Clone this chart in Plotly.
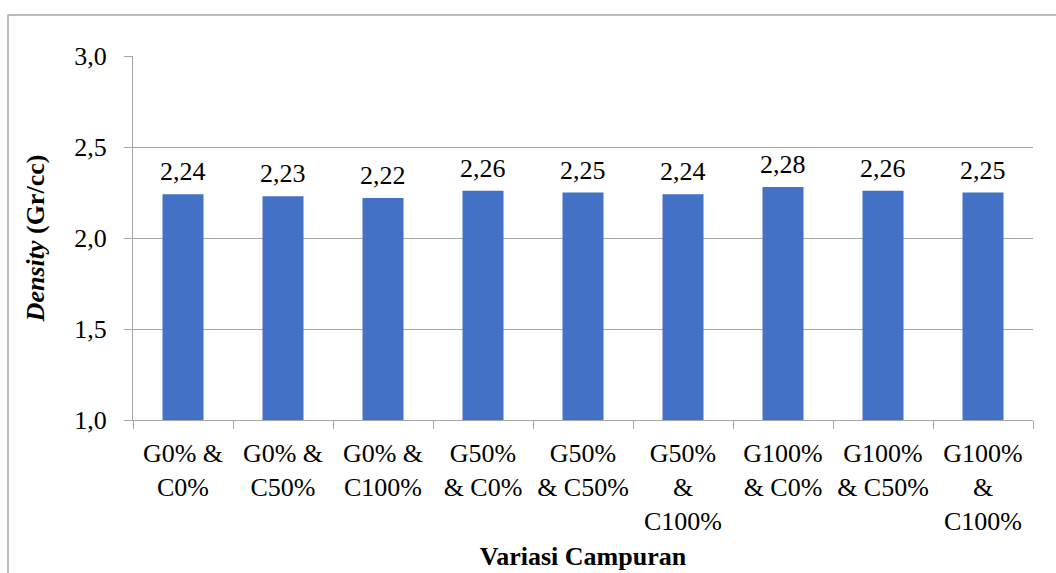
import plotly.graph_objects as go

categories = ["G0% &<br>C0%", "G0% &<br>C50%", "G0% &<br>C100%", "G50%<br>& C0%",
              "G50%<br>& C50%", "G50%<br>&<br>C100%", "G100%<br>& C0%",
              "G100%<br>& C50%", "G100%<br>&<br>C100%"]
density = [2.24, 2.23, 2.22, 2.26, 2.25, 2.24, 2.28, 2.26, 2.25]
y_ticks = [1.0, 1.5, 2.0, 2.5, 3.0]

FONT = "Liberation Serif"
FS = 26
GRID = "#a6a6a6"

fig = go.Figure()
fig.add_trace(go.Bar(
    x=categories, y=density,
    marker=dict(color="#4371C6", line=dict(width=0)),
    cliponaxis=False,
))

for c, v in zip(categories, density):
    fig.add_annotation(
        x=c, y=v, text=f"{v:.2f}".replace(".", ","),
        showarrow=False, yanchor="bottom", yshift=6,
        font=dict(family=FONT, size=FS, color="black"),
    )

L, R, T, B = 133, 23, 56, 153
W, H = 1056, 573
pw, ph = W - L - R, H - T - B

fig.update_layout(
    width=W, height=H,
    margin=dict(l=L, r=R, t=T, b=B),
    paper_bgcolor="white", plot_bgcolor="white",
    separators=", ",
    bargap=0.59,
    showlegend=False,
    font=dict(family=FONT, size=FS, color="black"),
    xaxis=dict(
        automargin=False, tickangle=0,
        showline=True, linecolor=GRID, linewidth=1,
        ticks="outside", ticklen=8, tickcolor=GRID, tickson="boundaries",
        ticklabelstandoff=10,
        tickfont=dict(family=FONT, size=FS, color="black"),
        title=dict(text="<b>Variasi Campuran</b>", font=dict(family=FONT, size=FS), standoff=12),
    ),
    yaxis=dict(
        automargin=False,
        range=[1.0, 3.0], tickvals=y_ticks, tickformat=".1f",
        showgrid=True, gridcolor=GRID, gridwidth=1,
        showline=True, linecolor=GRID, linewidth=1,
        ticks="outside", ticklen=8, tickcolor=GRID,
        ticklabelstandoff=12,
        tickfont=dict(family=FONT, size=FS, color="black"),
        title=dict(text="<b><i>Density</i> (Gr/cc)</b>", font=dict(family=FONT, size=FS), standoff=22),
        zeroline=False,
    ),
    shapes=[dict(
        type="rect", xref="paper", yref="paper",
        x0=(8 - L) / pw, x1=(W + 10 - L) / pw,
        y0=(H - B - (H + 10)) / ph, y1=(H - B - 15) / ph,
        line=dict(color=GRID, width=1.5), fillcolor="rgba(0,0,0,0)", layer="below",
    )],
)

fig.write_html("out.html", config={"displayModeBar": False},
               post_script="document.body.style.margin='0';document.body.style.overflow='hidden';")
